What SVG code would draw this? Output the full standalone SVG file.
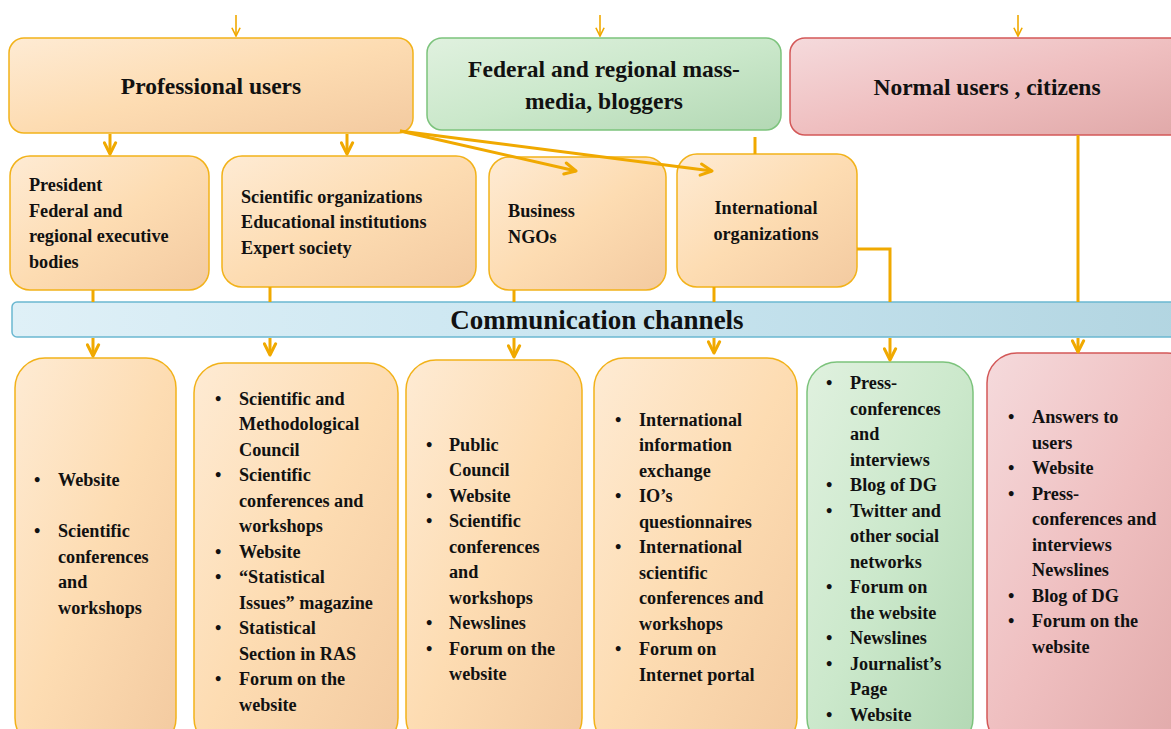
<svg xmlns="http://www.w3.org/2000/svg" width="1171" height="729" viewBox="0 0 1171 729">
<defs>
<linearGradient id="gO" x1="0" y1="0" x2="1" y2="1">
<stop offset="0" stop-color="#feebd4"/><stop offset="0.5" stop-color="#fddcb2"/><stop offset="1" stop-color="#f3caa0"/>
</linearGradient>
<linearGradient id="gG" x1="0" y1="0" x2="1" y2="1">
<stop offset="0" stop-color="#e0f1df"/><stop offset="0.5" stop-color="#cbe8cb"/><stop offset="1" stop-color="#b3d8b4"/>
</linearGradient>
<linearGradient id="gR" x1="0" y1="0" x2="1" y2="1">
<stop offset="0" stop-color="#f5dadc"/><stop offset="0.5" stop-color="#efbfc0"/><stop offset="1" stop-color="#e0a8a8"/>
</linearGradient>
<linearGradient id="gB" x1="0" y1="0" x2="1" y2="0">
<stop offset="0" stop-color="#dff0f7"/><stop offset="0.5" stop-color="#c9e5f0"/><stop offset="1" stop-color="#b2d5e1"/>
</linearGradient>
<marker id="ah" viewBox="0 0 12 12" refX="10.5" refY="6" markerWidth="15" markerHeight="15" markerUnits="userSpaceOnUse" orient="auto">
<path d="M1.5,1.5 L10.5,6 L1.5,10.5" fill="none" stroke="#f0a900" stroke-width="2.4" stroke-linecap="round" stroke-linejoin="round"/>
</marker>
<marker id="ahs" viewBox="0 0 12 12" refX="11" refY="6" markerWidth="11" markerHeight="11" markerUnits="userSpaceOnUse" orient="auto">
<path d="M2,1.5 L11,6 L2,10.5" fill="none" stroke="#f0a900" stroke-width="1.8"/>
</marker>
</defs>
<style>
.o{fill:url(#gO);stroke:#f2b21a;stroke-width:1.5}
.g{fill:url(#gG);stroke:#7cc37c;stroke-width:1.5}
.r{fill:url(#gR);stroke:#d35858;stroke-width:1.5}
.b{fill:url(#gB);stroke:#6bb8d1;stroke-width:1.5}
text{font-family:"Liberation Serif","Times New Roman",serif;font-weight:bold;fill:#111}
.h{font-size:23.5px}
.t{font-size:18.2px}
.c{text-anchor:middle}
.cn{fill:none;stroke:#f0a900;stroke-width:3}
.sm{fill:none;stroke:#f0a900;stroke-width:1.6}
</style>

<g id="professional-users">
<rect class="o" x="9" y="38" width="404" height="95" rx="15"/>
<text class="h c" x="211" y="94">Professional users</text>
</g>
<g id="mass-media">
<rect class="g" x="427" y="38" width="354" height="92" rx="15"/>
<text class="h c" x="604" y="77">Federal and regional mass-</text>
<text class="h c" x="604" y="109">media, bloggers</text>
</g>
<g id="normal-users">
<rect class="r" x="790" y="38" width="400" height="97" rx="15"/>
<text class="h c" x="987" y="95">Normal users , citizens</text>
</g>

<g id="president">
<rect class="o" x="10" y="156" width="199" height="134" rx="20"/>
<text class="t"><tspan x="29" y="191">President</tspan><tspan x="29" y="217">Federal and</tspan><tspan x="29" y="242">regional executive</tspan><tspan x="29" y="268">bodies</tspan></text>
</g>
<g id="scientific-orgs">
<rect class="o" x="222" y="156" width="254" height="131" rx="20"/>
<text class="t"><tspan x="241" y="203">Scientific organizations</tspan><tspan x="241" y="228">Educational institutions</tspan><tspan x="241" y="254">Expert society</tspan></text>
</g>
<g id="business">
<rect class="o" x="489" y="157" width="177" height="133" rx="20"/>
<text class="t"><tspan x="508" y="217">Business</tspan><tspan x="508" y="243">NGOs</tspan></text>
</g>
<g id="international-orgs">
<rect class="o" x="677" y="154" width="180" height="133" rx="20"/>
<text class="t c"><tspan x="766" y="214">International</tspan><tspan x="766" y="240">organizations</tspan></text>
</g>

<g id="communication-channels">
<rect class="b" x="12" y="302" width="1175" height="35" rx="5"/>
<text class="c" x="597" y="329" style="font-size:27px">Communication channels</text>
</g>

<g id="ch1">
<rect class="o" x="15" y="358" width="161" height="390" rx="30"/>
<text class="t"><tspan x="34" y="486">•</tspan><tspan x="58" y="486">Website</tspan><tspan x="34" y="537">•</tspan><tspan x="58" y="537">Scientific</tspan><tspan x="58" y="563">conferences</tspan><tspan x="58" y="588">and</tspan><tspan x="58" y="614">workshops</tspan></text>
</g>
<g id="ch2">
<rect class="o" x="194" y="363" width="204" height="385" rx="30"/>
<text class="t"><tspan x="215" y="405">•</tspan><tspan x="239" y="405">Scientific and</tspan><tspan x="239" y="430">Methodological</tspan><tspan x="239" y="456">Council</tspan><tspan x="215" y="481">•</tspan><tspan x="239" y="481">Scientific</tspan><tspan x="239" y="507">conferences and</tspan><tspan x="239" y="532">workshops</tspan><tspan x="215" y="558">•</tspan><tspan x="239" y="558">Website</tspan><tspan x="215" y="583">•</tspan><tspan x="239" y="583">“Statistical</tspan><tspan x="239" y="609">Issues” magazine</tspan><tspan x="215" y="634">•</tspan><tspan x="239" y="634">Statistical</tspan><tspan x="239" y="660">Section in RAS</tspan><tspan x="215" y="685">•</tspan><tspan x="239" y="685">Forum on the</tspan><tspan x="239" y="711">website</tspan></text>
</g>
<g id="ch3">
<rect class="o" x="406" y="360" width="176" height="388" rx="30"/>
<text class="t"><tspan x="426" y="451">•</tspan><tspan x="449" y="451">Public</tspan><tspan x="449" y="476">Council</tspan><tspan x="426" y="502">•</tspan><tspan x="449" y="502">Website</tspan><tspan x="426" y="527">•</tspan><tspan x="449" y="527">Scientific</tspan><tspan x="449" y="553">conferences</tspan><tspan x="449" y="578">and</tspan><tspan x="449" y="604">workshops</tspan><tspan x="426" y="629">•</tspan><tspan x="449" y="629">Newslines</tspan><tspan x="426" y="655">•</tspan><tspan x="449" y="655">Forum on the</tspan><tspan x="449" y="680">website</tspan></text>
</g>
<g id="ch4">
<rect class="o" x="594" y="358" width="203" height="390" rx="30"/>
<text class="t"><tspan x="615" y="426">•</tspan><tspan x="639" y="426">International</tspan><tspan x="639" y="451">information</tspan><tspan x="639" y="477">exchange</tspan><tspan x="615" y="502">•</tspan><tspan x="639" y="502">IO’s</tspan><tspan x="639" y="528">questionnaires</tspan><tspan x="615" y="553">•</tspan><tspan x="639" y="553">International</tspan><tspan x="639" y="579">scientific</tspan><tspan x="639" y="604">conferences and</tspan><tspan x="639" y="630">workshops</tspan><tspan x="615" y="655">•</tspan><tspan x="639" y="655">Forum on</tspan><tspan x="639" y="681">Internet portal</tspan></text>
</g>
<g id="ch5">
<rect class="g" x="807" y="362" width="166" height="386" rx="30"/>
<text class="t"><tspan x="826" y="389">•</tspan><tspan x="850" y="389">Press-</tspan><tspan x="850" y="415">conferences</tspan><tspan x="850" y="440">and</tspan><tspan x="850" y="466">interviews</tspan><tspan x="826" y="491">•</tspan><tspan x="850" y="491">Blog of DG</tspan><tspan x="826" y="517">•</tspan><tspan x="850" y="517">Twitter and</tspan><tspan x="850" y="542">other social</tspan><tspan x="850" y="568">networks</tspan><tspan x="826" y="593">•</tspan><tspan x="850" y="593">Forum on</tspan><tspan x="850" y="619">the website</tspan><tspan x="826" y="644">•</tspan><tspan x="850" y="644">Newslines</tspan><tspan x="826" y="670">•</tspan><tspan x="850" y="670">Journalist’s</tspan><tspan x="850" y="695">Page</tspan><tspan x="826" y="721">•</tspan><tspan x="850" y="721">Website</tspan></text>
</g>
<g id="ch6">
<rect class="r" x="987" y="353" width="210" height="395" rx="30"/>
<text class="t"><tspan x="1008" y="423">•</tspan><tspan x="1032" y="423">Answers to</tspan><tspan x="1032" y="449">users</tspan><tspan x="1008" y="474">•</tspan><tspan x="1032" y="474">Website</tspan><tspan x="1008" y="500">•</tspan><tspan x="1032" y="500">Press-</tspan><tspan x="1032" y="525">conferences and</tspan><tspan x="1032" y="551">interviews</tspan><tspan x="1032" y="576">Newslines</tspan><tspan x="1008" y="602">•</tspan><tspan x="1032" y="602">Blog of DG</tspan><tspan x="1008" y="627">•</tspan><tspan x="1032" y="627">Forum on  the</tspan><tspan x="1032" y="653">website</tspan></text>
</g>

<g id="connectors">
<line class="sm" x1="236" y1="15" x2="236" y2="36" marker-end="url(#ahs)"/>
<line class="sm" x1="600" y1="15" x2="600" y2="36" marker-end="url(#ahs)"/>
<line class="sm" x1="1018" y1="15" x2="1018" y2="36" marker-end="url(#ahs)"/>
<line class="cn" x1="110" y1="134" x2="110" y2="154" marker-end="url(#ah)"/>
<line class="cn" x1="347" y1="134" x2="347" y2="154" marker-end="url(#ah)"/>
<line class="cn" x1="400" y1="131" x2="576" y2="171" marker-end="url(#ah)"/>
<line class="cn" x1="400" y1="131" x2="712" y2="171" marker-end="url(#ah)"/>
<line class="cn" x1="755" y1="137" x2="755" y2="154"/>
<polyline class="cn" points="857,249 890,249 890,302"/>
<line class="cn" x1="1078" y1="135" x2="1078" y2="302"/>
<line class="cn" x1="93" y1="290" x2="93" y2="302"/>
<line class="cn" x1="270" y1="287" x2="270" y2="302"/>
<line class="cn" x1="514" y1="290" x2="514" y2="302"/>
<line class="cn" x1="714" y1="287" x2="714" y2="302"/>
<line class="cn" x1="93" y1="338" x2="93" y2="356" marker-end="url(#ah)"/>
<line class="cn" x1="270" y1="338" x2="270" y2="355" marker-end="url(#ah)"/>
<line class="cn" x1="514" y1="338" x2="514" y2="357" marker-end="url(#ah)"/>
<line class="cn" x1="714" y1="338" x2="714" y2="353" marker-end="url(#ah)"/>
<line class="cn" x1="890" y1="338" x2="890" y2="360" marker-end="url(#ah)"/>
<line class="cn" x1="1078" y1="338" x2="1078" y2="352" marker-end="url(#ah)"/>
</g>
</svg>
